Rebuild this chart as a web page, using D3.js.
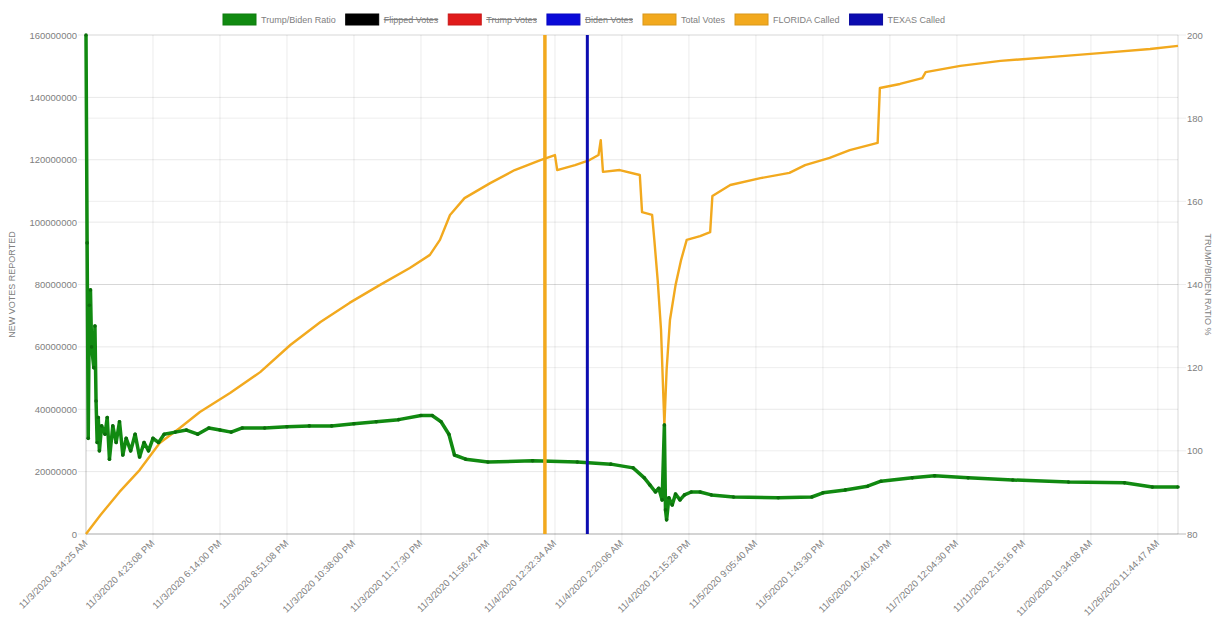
<!DOCTYPE html>
<html>
<head>
<meta charset="utf-8">
<script src="https://cdn.jsdelivr.net/npm/d3@7"></script>
<style>
  body { margin: 0; background: #fff; }
  svg { display: block; font-family: "Liberation Sans", Arial, sans-serif; }
</style>
</head>
<body>
<script>
// x axis is the report index (category axis), labels every 60 reports
let reportCount = 979
let tickIdx = [0, 60, 120, 180, 240, 300, 360, 420, 480, 540, 600, 660, 720, 780, 840, 900, 960]
let tickLabels = [
  "11/3/2020 8:34:25 AM", "11/3/2020 4:23:08 PM", "11/3/2020 6:14:00 PM", "11/3/2020 8:51:08 PM",
  "11/3/2020 10:38:00 PM", "11/3/2020 11:17:30 PM", "11/3/2020 11:56:42 PM", "11/4/2020 12:32:34 AM",
  "11/4/2020 2:20:06 AM", "11/4/2020 12:15:28 PM", "11/5/2020 9:05:40 AM", "11/5/2020 1:43:30 PM",
  "11/6/2020 12:40:41 PM", "11/7/2020 12:04:30 PM", "11/11/2020 2:15:16 PM", "11/20/2020 10:34:08 AM",
  "11/26/2020 11:44:47 AM"
]

let leftTicks = [0, 20000000, 40000000, 60000000, 80000000, 100000000, 120000000, 140000000, 160000000]
let rightTicks = [80, 100, 120, 140, 160, 180, 200]

// [report index, total votes in millions]
let totalVotes = [
  [0, 0], [13, 6.1], [30, 13.5], [48, 20.5], [66, 29.2], [84, 34.0], [102, 39.1], [129, 45.2],
  [156, 51.9], [183, 60.6], [210, 68.0], [236, 74.1], [263, 79.8], [290, 85.3], [308, 89.5],
  [317, 94.3], [326, 102.3], [339, 107.7], [362, 112.5], [384, 116.7], [407, 119.9], [420, 121.5],
  [422, 116.7], [438, 118.3], [451, 119.9], [459, 121.5], [461, 126.3], [463, 116.1], [478, 116.7],
  [496, 115.1], [498, 103.2], [507, 102.3], [509, 94.3], [512, 81.4], [515, 65.4], [518, 34.9],
  [520, 52.6], [523, 68.6], [528, 79.8], [533, 87.9], [538, 94.3], [550, 95.5], [559, 96.8],
  [561, 108.4], [577, 111.9], [604, 114.1], [630, 115.8], [644, 118.3], [666, 120.6], [684, 123.1],
  [709, 125.4], [711, 143.0], [729, 144.3], [749, 146.2], [752, 148.1], [783, 150.1], [819, 151.7],
  [863, 152.9], [908, 154.2], [953, 155.5], [978, 156.5]
]

// [report index, trump/biden ratio %]
let ratio = [
  [0, 200], [1, 150], [2, 103], [3, 135], [4, 138.7], [5, 125], [7, 120], [8, 130], [9, 112],
  [10, 102], [11, 108], [12, 100], [14, 106], [17, 104], [19, 108], [21, 98], [24, 106], [27, 102],
  [30, 107], [33, 99], [36, 103], [40, 100], [44, 104], [48, 98.5], [52, 102], [56, 100], [60, 103],
  [65, 102], [70, 104], [80, 104.5], [90, 105], [100, 104], [110, 105.5], [120, 105], [130, 104.5],
  [140, 105.5], [160, 105.5], [180, 105.8], [200, 106], [220, 106], [240, 106.5], [260, 107],
  [280, 107.5], [300, 108.5], [310, 108.5], [318, 107], [325, 104], [330, 99], [340, 98],
  [360, 97.3], [400, 97.6], [440, 97.3], [470, 96.8], [490, 95.9], [500, 93.5], [505, 91.8],
  [510, 90.1], [513, 91], [516, 88.2], [518, 106.2], [519, 85.8], [520, 83.4], [522, 88.7],
  [525, 87], [528, 89.6], [532, 88.2], [536, 89.4], [542, 90.1], [550, 90.1], [560, 89.4],
  [580, 88.9], [620, 88.7], [650, 88.9], [660, 89.9], [680, 90.6], [700, 91.5], [712, 92.7],
  [740, 93.5], [760, 94.0], [790, 93.5], [830, 93.0], [880, 92.5], [930, 92.3], [955, 91.3], [978, 91.3]
]

let floridaCalled = 411
let texasCalled = 449

let legendItems = [
  { label: "Trump/Biden Ratio", color: "#118a11", hidden: false },
  { label: "Flipped Votes", color: "#000000", hidden: true },
  { label: "Trump Votes", color: "#e01b1b", hidden: true },
  { label: "Biden Votes", color: "#0a0ad8", hidden: true },
  { label: "Total Votes", color: "#f2a91e", hidden: false },
  { label: "FLORIDA Called", color: "#f2a91e", hidden: false },
  { label: "TEXAS Called", color: "#0c0cb0", hidden: false }
]

let width = 1217, height = 621
let plotLeft = 86, plotRight = 1178, plotTop = 35, plotBottom = 534

let svg = d3.select("body").append("svg")
  .attr("width", width)
  .attr("height", height)

let x = d3.scaleLinear().domain([0, reportCount - 1]).range([plotLeft, plotRight])
let yLeft = d3.scaleLinear().domain([0, 160000000]).range([plotBottom, plotTop])
let yRight = d3.scaleLinear().domain([80, 200]).range([plotBottom, plotTop])

// grid lines
let grid = svg.append("g")
grid.selectAll(".gx").data(tickIdx).enter().append("line")
  .attr("x1", d => x(d)).attr("x2", d => x(d))
  .attr("y1", plotTop).attr("y2", plotBottom + 8)
  .attr("stroke", "rgba(0,0,0,0.08)")
grid.selectAll(".gl").data(leftTicks).enter().append("line")
  .attr("x1", plotLeft - 8).attr("x2", plotRight)
  .attr("y1", d => yLeft(d)).attr("y2", d => yLeft(d))
  .attr("stroke", "rgba(0,0,0,0.09)")
grid.selectAll(".gr").data(rightTicks).enter().append("line")
  .attr("x1", plotLeft).attr("x2", plotRight + 8)
  .attr("y1", d => yRight(d)).attr("y2", d => yRight(d))
  .attr("stroke", "rgba(0,0,0,0.07)")
// axis borders
svg.append("line").attr("x1", plotLeft).attr("x2", plotRight + 8).attr("y1", plotBottom).attr("y2", plotBottom)
  .attr("stroke", "rgba(0,0,0,0.2)")
svg.append("line").attr("x1", plotLeft).attr("x2", plotLeft).attr("y1", plotTop).attr("y2", plotBottom)
  .attr("stroke", "rgba(0,0,0,0.15)")
svg.append("line").attr("x1", plotRight).attr("x2", plotRight).attr("y1", plotTop).attr("y2", plotBottom)
  .attr("stroke", "rgba(0,0,0,0.15)")

// tick labels
svg.append("g").selectAll("text").data(leftTicks).enter().append("text")
  .attr("x", plotLeft - 9).attr("y", d => yLeft(d) + 3.5)
  .attr("text-anchor", "end").attr("font-size", 9.5).attr("fill", "#808080")
  .text(d => d3.format("d")(d))
svg.append("g").selectAll("text").data(rightTicks).enter().append("text")
  .attr("x", plotRight + 9).attr("y", d => yRight(d) + 3.5)
  .attr("text-anchor", "start").attr("font-size", 9.5).attr("fill", "#808080")
  .text(d => d)
svg.append("g").selectAll("text").data(tickIdx).enter().append("text")
  .attr("transform", d => "translate(" + (x(d) + 2) + "," + (plotBottom + 10) + ") rotate(-45)")
  .attr("text-anchor", "end").attr("font-size", 9.5).attr("fill", "#808080")
  .text((d, i) => tickLabels[i])

// axis titles
svg.append("text")
  .attr("transform", "translate(15," + ((plotTop + plotBottom) / 2) + ") rotate(-90)")
  .attr("text-anchor", "middle").attr("font-size", 9).attr("fill", "#808080")
  .text("NEW VOTES REPORTED")
svg.append("text")
  .attr("transform", "translate(1205," + ((plotTop + plotBottom) / 2) + ") rotate(90)")
  .attr("text-anchor", "middle").attr("font-size", 9).attr("fill", "#808080")
  .text("TRUMP/BIDEN RATIO %")

// total votes
let voteLine = d3.line()
  .x(d => x(d[0]))
  .y(d => yLeft(d[1] * 1000000))
svg.append("path").datum(totalVotes)
  .attr("d", voteLine)
  .attr("fill", "none").attr("stroke", "#f2a91e").attr("stroke-width", 2.4)
  .attr("stroke-linejoin", "round")

// trump/biden ratio
let ratioLine = d3.line()
  .x(d => x(d[0]))
  .y(d => yRight(d[1]))
svg.append("path").datum(ratio)
  .attr("d", ratioLine)
  .attr("fill", "none").attr("stroke", "#118a11").attr("stroke-width", 3.5)
  .attr("stroke-linejoin", "round")
svg.append("g").selectAll("circle").data(ratio).enter().append("circle")
  .attr("cx", d => x(d[0])).attr("cy", d => yRight(d[1]))
  .attr("r", 1.8).attr("fill", "#0b6e0b")

// called markers
svg.append("line")
  .attr("x1", x(floridaCalled)).attr("x2", x(floridaCalled))
  .attr("y1", plotTop).attr("y2", plotBottom)
  .attr("stroke", "#f2a91e").attr("stroke-width", 3.5)
svg.append("line")
  .attr("x1", x(texasCalled)).attr("x2", x(texasCalled))
  .attr("y1", plotTop).attr("y2", plotBottom)
  .attr("stroke", "#0c0cb0").attr("stroke-width", 3)

// legend
let legend = svg.append("g")
let lx = 223
legendItems.forEach(item => {
  let g = legend.append("g").attr("transform", "translate(" + lx + ",14)")
  g.append("rect").attr("width", 33).attr("height", 11)
    .attr("fill", item.color).attr("stroke", d3.color(item.color).darker(0.3))
  let t = g.append("text").attr("x", 38).attr("y", 9)
    .attr("font-size", 9).attr("fill", "#808080")
    .text(item.label)
  let w = t.node().getComputedTextLength()
  if (item.hidden) {
    g.append("line").attr("x1", 38).attr("x2", 38 + w)
      .attr("y1", 5.5).attr("y2", 5.5).attr("stroke", "#808080").attr("stroke-width", 1)
  }
  lx += 38 + w + 10
})
</script>
</body>
</html>
